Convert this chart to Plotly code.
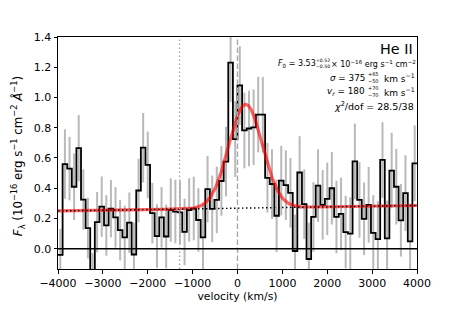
import numpy as np
import plotly.graph_objects as go

# ---------------- data ----------------
v_min, v_max = -4000, 4000
n_bins = 78
flux = [-0.04, 0.56, 0.53, 0.41, 0.665, 0.325, 0.136, -0.25, 0.176, 0.278,
        0.154, 0.265, 0.207, 0.123, 0.075, 0.172, -0.038, 0.385, 0.668, 0.554,
        0.235, 0.084, 0.208, 0.081, 0.256, 0.246, 0.24, 0.111, 0.256, 0.266,
        0.19, 0.075, 0.394, 0.264, 0.323, 0.448, 0.576, 1.23, 0.725, 1.08,
        0.782, 0.795, 0.803, 0.887, 0.887, 0.469, 0.428, 0.218, 0.45, 0.42,
        0.37, -0.015, 0.504, 0.295, -0.068, 0.21, 0.417, 0.29, 0.33, 0.40,
        0.21, 0.23, 0.11, 0.10, 0.577, 0.323, 0.198, 0.29, 0.105, 0.063,
        0.587, 0.068, 0.517, 0.41, 0.188, 0.368, 0.048, 0.565]
flux_err = [0.17, 0.23, 0.21, 0.22, 0.22, 0.20, 0.20, 0.22, 0.20, 0.20,
            0.20, 0.19, 0.20, 0.20, 0.21, 0.20, 0.21, 0.21, 0.23, 0.22,
            0.20, 0.21, 0.20, 0.21, 0.21, 0.21, 0.21, 0.22, 0.21, 0.21,
            0.21, 0.22, 0.22, 0.22, 0.22, 0.23, 0.23, 0.26, 0.25, 0.26,
            0.25, 0.25, 0.25, 0.25, 0.25, 0.23, 0.23, 0.24, 0.23, 0.23,
            0.23, 0.24, 0.24, 0.23, 0.24, 0.23, 0.24, 0.23, 0.24, 0.24,
            0.24, 0.24, 0.24, 0.24, 0.25, 0.25, 0.24, 0.25, 0.25, 0.25,
            0.25, 0.25, 0.25, 0.25, 0.24, 0.25, 0.25, 0.25]

# fit parameters (from the annotation)
F0 = 3.53          # 1e-16 erg/s/cm^2
sigma_v = 375.0    # km/s
v_r = 180.0        # km/s
cont_at_vmin = 0.25
cont_at_vmax = 0.286
line_wave = 1640.42
c_kms = 299792.458

v_dotted = -1290
v_dashed = 0

x_ticks = [-4000, -3000, -2000, -1000, 0, 1000, 2000, 3000, 4000]
x_ticktext = ["\u22124000", "\u22123000", "\u22122000", "\u22121000", "0",
              "1000", "2000", "3000", "4000"]
y_ticks = [0.0, 0.2, 0.4, 0.6, 0.8, 1.0, 1.2, 1.4]
y_ticktext = ["0.0", "0.2", "0.4", "0.6", "0.8", "1.0", "1.2", "1.4"]

# ---------------- derived ----------------
edges = np.linspace(v_min, v_max, n_bins + 1)
centers = 0.5 * (edges[:-1] + edges[1:])
step_y = list(flux) + [flux[-1]]

v_model = np.linspace(v_min, v_max, 801)
cont = cont_at_vmin + (cont_at_vmax - cont_at_vmin) * (v_model - v_min) / (v_max - v_min)
sigma_lam = sigma_v / c_kms * line_wave
amp = F0 / (sigma_lam * np.sqrt(2 * np.pi))
model = cont + amp * np.exp(-0.5 * ((v_model - v_r) / sigma_v) ** 2)

W, H = 463, 309
L, R, T, B = 58.3, 416.7, 36.7, 269.3
y_lo = -0.134
FONT = "DejaVu Sans"

fig = go.Figure()

fig.add_trace(go.Scatter(
    x=centers, y=flux, mode="markers",
    marker=dict(size=2, opacity=0),
    error_y=dict(type="data", array=flux_err, color="rgba(128,128,128,0.55)",
                 thickness=2, width=0),
    hoverinfo="skip", showlegend=False))

fig.add_trace(go.Scatter(
    x=edges, y=step_y, mode="lines", line=dict(color="black", width=1.8, shape="hv"),
    showlegend=False))

fig.add_trace(go.Scatter(
    x=v_model, y=model, mode="lines", line=dict(color="rgba(255,0,0,0.62)", width=3.2),
    showlegend=False))

fig.add_trace(go.Scatter(
    x=v_model, y=cont, mode="lines", line=dict(color="black", width=1.4, dash="1.5px,2.5px"),
    showlegend=False))

fig.add_shape(type="line", xref="x", yref="paper", x0=v_dotted, x1=v_dotted, y0=0, y1=1,
              line=dict(color="#a8a8a8", width=1.4, dash="1.5px,2.5px"))
fig.add_shape(type="line", xref="x", yref="paper", x0=v_dashed, x1=v_dashed, y0=0, y1=1,
              line=dict(color="#a8a8a8", width=1.4, dash="5.5px,2.5px"))
fig.add_shape(type="line", xref="paper", yref="y", x0=0, x1=1, y0=0, y1=0,
              line=dict(color="black", width=1.5))


def px_x(p):
    return (p - L) / (R - L)


def px_y(p):
    return (B - p) / (B - T)


def ann(text, x, y, size, xanchor="right", angle=0):
    fig.add_annotation(text=text, x=px_x(x), y=px_y(y), xref="paper", yref="paper",
                       xanchor=xanchor, yanchor="middle", showarrow=False, textangle=angle,
                       font=dict(family=FONT, size=size, color="black"), borderpad=0)


ann("He II", 413.8, 49, 14.4)
# F0 line
sf, ssf = 8.0, 4.6
ann("<i>F</i><sub>0</sub> = 3.53", 316.5, 63.3, sf)
ann("+0.52<br>\u22120.50", 330.8, 63.3, ssf)
ann("\u00d7 10<sup>\u221216</sup> erg s<sup>\u22121</sup> cm<sup>\u22122</sup>", 416.3, 63.3, sf)
# sigma line
s, ss = 8.8, 5.0
ann("<i>\u03c3</i> = 375", 366.0, 77.8, s)
ann("+65<br>\u221250", 366.6, 77.8, ss, "left")
ann("km s<sup>\u22121</sup>", 416.0, 77.8, 9.0)
# v_r line
ann("<i>v</i><sub><i>r</i></sub> = 180", 366.0, 91.7, s)
ann("+70<br>\u221270", 366.6, 91.7, ss, "left")
ann("km s<sup>\u22121</sup>", 416.0, 91.7, 9.0)
# chi2 line
ann("<i>\u03c7</i><sup>2</sup>/dof = 28.5/38", 414.8, 106, 9.5)

# y-axis title
ann("<i>F</i><sub>\u03bb</sub> (10<sup>\u221216</sup> erg s<sup>\u22121</sup> cm<sup>\u22122</sup> <i>\u00c5</i><sup>\u22121</sup>)",
    18.5, 156, 11.8, "center", -90)

fig.update_layout(
    width=W, height=H,
    margin=dict(l=L, r=W - R, t=T, b=H - B, pad=0),
    paper_bgcolor="white", plot_bgcolor="white",
    font=dict(family=FONT, size=11, color="black"),
    showlegend=False,
    xaxis=dict(range=[v_min, v_max], tickvals=x_ticks, ticktext=x_ticktext,
               automargin=False,
               showgrid=False, zeroline=False, showline=True, mirror=True,
               linecolor="black", linewidth=1, ticks="outside", ticklen=3.5,
               tickwidth=0.8, tickcolor="black", tickfont=dict(size=11),
               title=dict(text="velocity (km/s)", font=dict(size=10.8), standoff=3)),
    yaxis=dict(range=[y_lo, 1.4], tickvals=y_ticks, ticktext=y_ticktext,
               automargin=False,
               showgrid=False, zeroline=False, showline=True, mirror=True,
               linecolor="black", linewidth=1, ticks="outside", ticklen=3.5,
               tickwidth=0.8, tickcolor="black", tickfont=dict(size=11)),
)

fig.write_html("out.html", config={"displayModeBar": False},
               post_script="document.body.style.margin='0px';")
